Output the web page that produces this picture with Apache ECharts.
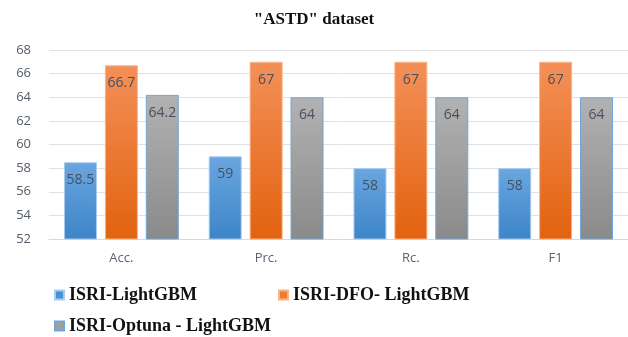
<!DOCTYPE html>
<html><head><meta charset="utf-8">
<script src="https://cdn.jsdelivr.net/npm/echarts@6/dist/echarts.min.js"></script>
<style>html,body{margin:0;padding:0;background:#fff}#c{width:628px;height:337px}</style>
</head><body><div id="c"></div>
<script>
const categories = ['Acc.', 'Prc.', 'Rc.', 'F1'];
const seriesNames = ['ISRI-LightGBM', 'ISRI-DFO- LightGBM', 'ISRI-Optuna - LightGBM'];
const lightgbm = [58.5, 59, 58, 58];
const dfo = [66.7, 67, 67, 67];
const optuna = [64.2, 64, 64, 64];
const yMin = 52, yMax = 68, yStep = 2;

const grad = (a, b) => new echarts.graphic.LinearGradient(0, 0, 0, 1, [{offset: 0, color: a}, {offset: 1, color: b}]);
const styles = [
  {color: grad('#6aa6e0', '#3d85c8'), borderColor: '#a9cbed', legend: '#4a90d6'},
  {color: grad('#f39058', '#e2620f'), borderColor: '#f7b48a', legend: '#ed7d31'},
  {color: grad('#b2b2b2', '#8a8a8a'), borderColor: '#6ea6dc', legend: '#a0a0a0'}
];
const data = [lightgbm, dfo, optuna];
const chart = echarts.init(document.getElementById('c'), null, {renderer: 'canvas'});
const legendText = {fontFamily: 'Liberation Serif', fontWeight: 'bold', fontSize: 18, color: '#111'};
chart.setOption({
  animation: false,
  title: {text: '"ASTD" dataset', left: 'center', top: 6,
    textStyle: {fontFamily: 'Liberation Serif', fontWeight: 'bold', fontSize: 17, color: '#111'}},
  legend: [
    {data: [{name: seriesNames[0], itemStyle: {color: styles[0].legend}}], left: 49, top: 281, itemWidth: 9, itemHeight: 9, itemGap: 4, textStyle: legendText, icon: 'rect'},
    {data: [{name: seriesNames[1], itemStyle: {color: styles[1].legend}}], left: 273, top: 281, itemWidth: 9, itemHeight: 9, itemGap: 4, textStyle: legendText, icon: 'rect'},
    {data: [{name: seriesNames[2], itemStyle: {color: styles[2].legend}}], left: 49, top: 312, itemWidth: 9, itemHeight: 9, itemGap: 4, textStyle: legendText, icon: 'rect'}
  ],
  grid: {left: 49, top: 50, width: 585, height: 189, containLabel: false},
  xAxis: {type: 'category', data: categories,
    axisLine: {lineStyle: {color: '#d9d9d9'}}, axisTick: {show: false},
    axisLabel: {color: '#5a6272', fontFamily: 'Open Sans', fontSize: 13, margin: 13}},
  yAxis: {type: 'value', min: yMin, max: yMax, interval: yStep,
    axisLine: {show: false}, axisTick: {show: false},
    splitLine: {lineStyle: {color: '#dfe1e6'}},
    axisLabel: {color: '#545c68', fontFamily: 'Open Sans', fontSize: 13, margin: 18}},
  series: data.map((d, i) => ({
    name: seriesNames[i], type: 'bar', data: d, barWidth: 33, barGap: '24%',
    itemStyle: {color: styles[i].color, borderColor: styles[i].borderColor, borderWidth: 1},
    label: {show: true, position: 'insideTop', distance: 11, color: '#46505e', fontFamily: 'Open Sans', fontSize: 14}
  }))
});
</script></body></html>
